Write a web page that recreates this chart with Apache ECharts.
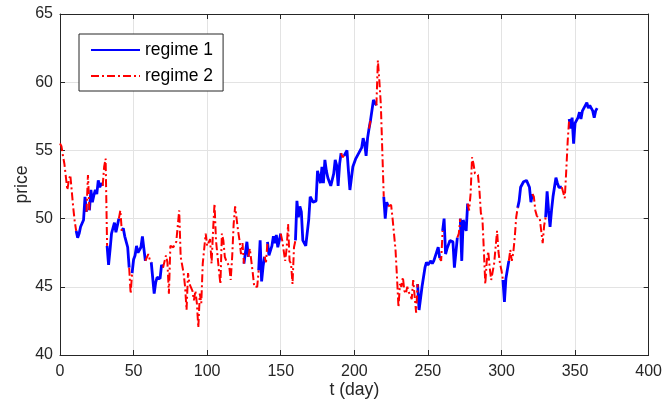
<!DOCTYPE html>
<html>
<head>
<meta charset="utf-8">
<script src="https://cdn.jsdelivr.net/npm/echarts@6/dist/echarts.min.js"></script>
<style>
html,body{margin:0;padding:0;background:#fff;}
#chart{width:665px;height:410px;}
</style>
</head>
<body>
<div id="chart"></div>
<script>
var days = [0,1,2,3,5,6,7,8,9,10,11,12,13,14,15,16,17,18,19,20,21,22,23,24,25,26,27,28,29,30,31,32,33,34,35,37,38,40,41,42,43,44,46,47,48,49,50,51,52,53,55,56,58,60,61,62,63,64,65,66,68,69,70,72,73,74,75,77,79,81,82,84,85,86,87,88,90,91,92,93,94,95,96,97,99,100,101,102,103,104,105,106,108,109,110,111,112,113,115,116,117,118,119,121,122,123,124,125,126,127,128,129,130,131,132,134,135,136,137,138,139,140,141,142,144,145,146,147,148,150,151,153,154,155,156,157,158,159,160,161,162,163,164,165,167,169,170,172,174,175,177,178,179,180,181,182,184,186,187,188,189,190,191,192,193,195,196,197,199,201,202,204,205,206,207,208,209,210,211,213,214,215,216,217,218,219,220,221,222,223,224,225,226,227,228,229,230,231,232,233,234,235,236,237,238,239,240,241,242,243,244,245,246,248,249,250,252,253,254,255,257,258,259,260,261,262,263,265,267,268,270,271,272,273,274,276,277,278,279,280,281,282,284,285,286,287,288,289,290,291,292,293,295,296,297,298,299,300,301,302,303,304,305,306,307,308,309,310,311,312,313,314,315,317,318,319,320,321,322,323,324,325,326,327,328,329,330,331,332,333,334,335,336,337,338,339,340,341,342,343,344,345,346,347,348,349,350,351,352,353,354,355,356,357,358,359,360,361,362,363,364,365];
var prices = [55.5,55.3,54.6,54.0,52.1,52.8,53.2,53.3,50.8,49.8,49.1,48.6,48.9,49.4,49.5,49.9,51.6,50.5,53.2,50.6,52.1,51.2,51.7,52.1,51.8,52.8,52.3,52.6,52.4,53.8,54.4,48.0,46.6,47.7,48.9,49.7,49.0,50.0,50.6,49.1,49.3,48.7,47.9,46.4,44.5,46.0,47.0,47.3,48.0,47.5,47.9,48.7,46.9,47.4,47.0,46.8,46.7,44.5,45.3,45.7,45.6,46.6,46.4,47.3,46.8,44.5,48.0,47.9,48.3,50.6,47.2,46.0,45.0,43.3,46.0,45.2,44.7,44.0,44.7,43.8,42.0,44.5,43.8,46.7,48.9,48.0,47.9,48.5,46.7,49.1,51.1,48.4,46.2,45.2,48.9,48.4,47.2,46.9,46.5,45.5,47.2,49.6,50.9,49.1,48.4,47.4,48.2,46.7,46.6,48.3,47.2,47.8,46.9,46.0,45.0,45.0,46.2,48.4,45.4,46.5,47.2,46.8,48.3,47.3,48.0,48.7,48.2,48.8,47.9,48.9,48.4,46.9,47.8,49.6,46.9,46.7,45.2,47.9,48.4,51.3,50.1,50.9,50.5,48.4,48.0,49.9,51.6,51.2,51.3,53.5,52.6,53.8,52.6,54.3,53.5,53.0,52.4,53.3,54.3,53.9,52.4,54.0,54.8,54.5,54.6,55.0,53.5,52.1,53.8,54.4,54.5,55.0,55.2,55.9,55.5,54.6,55.9,56.6,57.2,58.7,58.8,58.3,61.6,60.1,58.4,55.0,51.6,50.0,51.2,50.9,51.0,51.0,50.0,49.9,47.7,45.7,43.5,45.2,45.0,45.7,44.7,44.5,45.0,44.6,44.4,44.1,45.5,44.3,43.1,45.2,43.3,43.4,45.0,46.4,46.8,46.6,46.9,46.7,46.9,46.8,47.9,47.1,46.9,49.1,50.0,47.4,47.8,48.4,48.3,46.4,48.6,48.9,50.0,46.9,49.9,49.1,51.1,50.6,51.8,54.5,54.0,53.3,53.2,52.1,50.4,50.1,47.7,45.2,46.9,47.6,46.4,45.5,46.7,47.9,49.1,47.5,46.7,46.2,45.5,43.9,45.6,45.7,46.9,47.7,46.9,47.5,48.6,50.1,50.8,51.3,52.3,52.4,52.7,52.8,52.7,52.3,51.2,51.8,51.6,50.6,50.2,50.1,50.0,50.1,48.2,49.5,50.1,52.0,50.6,49.4,50.6,51.6,52.3,53.0,52.6,52.3,52.3,52.3,52.2,51.5,53.5,55.7,57.3,56.6,57.4,55.5,57.0,57.2,57.4,57.8,57.3,57.9,58.1,58.3,58.5,58.1,58.3,58.2,57.9,57.4,57.9,58.1];
var regimes = [2,2,2,2,2,2,2,2,2,2,2,1,1,1,1,1,1,1,2,2,1,1,1,1,1,1,1,1,1,2,2,2,1,1,1,1,1,1,2,2,1,1,1,1,2,2,1,1,1,1,1,1,1,2,2,2,1,1,1,1,1,1,1,2,2,2,2,2,2,2,2,2,2,2,2,2,2,2,2,2,2,2,2,2,2,2,2,2,2,2,2,2,2,2,2,2,2,2,2,2,2,2,2,2,2,2,2,2,1,1,1,2,2,2,2,2,2,1,1,1,1,2,2,1,1,1,1,1,1,1,2,2,2,2,2,2,2,2,2,1,1,1,1,1,1,1,1,1,1,1,1,1,1,1,1,1,1,1,1,1,1,1,1,2,2,1,1,1,1,1,1,1,1,1,1,1,1,1,2,1,1,1,2,2,2,2,2,1,1,1,2,2,2,2,2,2,2,2,2,2,2,2,2,2,2,2,2,2,2,2,1,1,1,1,1,1,1,1,1,1,1,1,2,2,1,1,1,1,1,1,1,2,2,1,1,1,1,2,2,2,2,2,2,2,2,2,2,2,2,2,2,2,2,2,2,2,2,2,2,1,1,1,1,2,2,2,2,2,2,1,1,1,1,1,1,1,1,1,2,2,2,2,2,2,2,2,2,1,1,1,1,1,1,1,1,1,1,1,2,2,2,2,2,1,1,1,1,1,1,1,1,1,1,1,1,1,1,1,1,1,1,1,1];
var seriesNames = ['regime 1', 'regime 2'];
var xTicks = {min: 0, max: 400, step: 50};
var yTicks = {min: 40, max: 65, step: 5};

function buildSeries(k) {
  var out = [];
  for (var i = 0; i < days.length; i++) {
    var inSeg = regimes[i] === k || (i + 1 < days.length && regimes[i + 1] === k);
    out.push(inSeg ? [days[i], prices[i]] : [days[i], '-']);
  }
  return out;
}

var axisColor = '#262626';
var fontFam = 'Liberation Sans, Arial, Helvetica, sans-serif';
var chart = echarts.init(document.getElementById('chart'), null, {renderer: 'canvas'});
chart.setOption({
  animation: false,
  backgroundColor: '#ffffff',
  grid: {left: 60, right: 13, top: 14, bottom: 55, containLabel: false},
  legend: {
    orient: 'vertical',
    left: 79, top: 34,
    backgroundColor: '#ffffff',
    borderColor: axisColor, borderWidth: 1,
    padding: [7, 10, 6, 11],
    itemWidth: 49, itemHeight: 14, itemGap: 8,
    itemStyle: {opacity: 0},
    textStyle: {fontSize: 17.5, color: '#000', fontFamily: fontFam},
    data: seriesNames
  },
  xAxis: [{
    type: 'value', min: xTicks.min, max: xTicks.max, interval: xTicks.step,
    name: 't (day)', nameLocation: 'middle', nameGap: 26, nameMoveOverlap: false,
    nameTextStyle: {fontSize: 17.6, color: axisColor, fontFamily: fontFam},
    axisLine: {show: true, lineStyle: {color: axisColor, width: 1}},
    axisTick: {show: true, inside: true, length: 5, lineStyle: {color: axisColor}},
    axisLabel: {fontSize: 16, color: axisColor, margin: 9, fontFamily: fontFam},
    splitLine: {show: true, lineStyle: {color: '#e3e3e3', width: 1}}
  }, {
    type: 'value', position: 'top', min: xTicks.min, max: xTicks.max, interval: xTicks.step,
    axisLine: {show: true, onZero: false, lineStyle: {color: axisColor, width: 1}},
    axisTick: {show: true, inside: true, length: 5, lineStyle: {color: axisColor}},
    axisLabel: {show: false}, splitLine: {show: false}
  }],
  yAxis: [{
    type: 'value', min: yTicks.min, max: yTicks.max, interval: yTicks.step,
    name: 'price', nameLocation: 'middle', nameGap: 29, nameMoveOverlap: false,
    nameTextStyle: {fontSize: 17.6, color: axisColor, fontFamily: fontFam},
    axisLine: {show: true, lineStyle: {color: axisColor, width: 1}},
    axisTick: {show: true, inside: true, length: 5, lineStyle: {color: axisColor}},
    axisLabel: {fontSize: 16, color: axisColor, margin: 7, fontFamily: fontFam},
    splitLine: {show: true, lineStyle: {color: '#e3e3e3', width: 1}}
  }, {
    type: 'value', position: 'right', min: yTicks.min, max: yTicks.max, interval: yTicks.step,
    axisLine: {show: true, onZero: false, lineStyle: {color: axisColor, width: 1}},
    axisTick: {show: true, inside: true, length: 5, lineStyle: {color: axisColor}},
    axisLabel: {show: false}, splitLine: {show: false}
  }],
  series: [{
    name: seriesNames[0], type: 'line', xAxisIndex: 0, yAxisIndex: 0,
    data: buildSeries(1), showSymbol: false, symbol: 'none', connectNulls: false,
    lineStyle: {color: '#0000ff', width: 2.8, type: 'solid'},
    itemStyle: {color: '#0000ff'}
  }, {
    name: seriesNames[1], type: 'line', xAxisIndex: 0, yAxisIndex: 0,
    data: buildSeries(2), showSymbol: false, symbol: 'none', connectNulls: false,
    lineStyle: {color: '#ff0000', width: 2, type: [8, 3, 2, 3]},
    itemStyle: {color: '#ff0000'}
  }]
});
</script>
</body>
</html>
